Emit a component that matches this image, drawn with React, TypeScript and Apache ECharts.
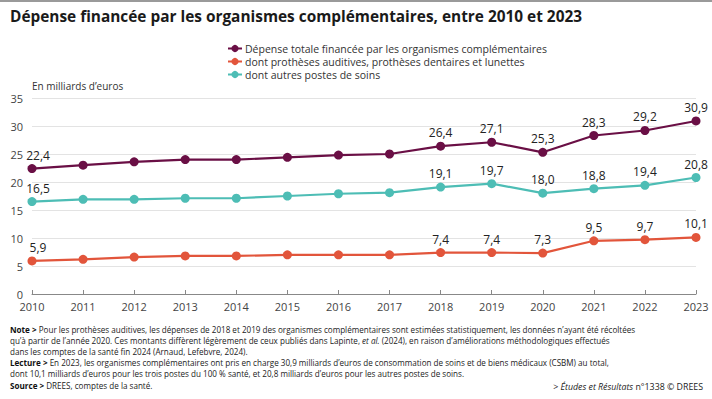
import React, { useEffect, useRef } from "react";
import * as echarts from "echarts";

const years = ["2010","2011","2012","2013","2014","2015","2016","2017","2018","2019","2020","2021","2022","2023"];
const total = [22.4, 23.0, 23.6, 24.0, 24.0, 24.4, 24.8, 25.0, 26.4, 27.1, 25.3, 28.3, 29.2, 30.9];
const hearing = [5.9, 6.2, 6.6, 6.8, 6.8, 7.0, 7.0, 7.0, 7.4, 7.4, 7.3, 9.5, 9.7, 10.1];
const other = [16.5, 16.9, 16.9, 17.1, 17.1, 17.5, 17.9, 18.1, 19.1, 19.7, 18.0, 18.8, 19.4, 20.8];
const labelledYears = ["2010","2018","2019","2020","2021","2022","2023"];
const seriesNames = [
  "Dépense totale financée par les organismes complémentaires",
  "dont prothèses auditives, prothèses dentaires et lunettes",
  "dont autres postes de soins",
];
const colors = ["#6a0f45", "#e2553b", "#4dbdb5"];

const FONT = "'Open Sans', 'Noto Sans', sans-serif";

const noteLines: { bold: string; text: string; italic?: string; after?: string }[] = [
  { bold: "Note > ", text: "Pour les prothèses auditives, les dépenses de 2018 et 2019 des organismes complémentaires sont estimées statistiquement, les données n’ayant été récoltées" },
  { bold: "", text: "qu’à partir de l’année 2020. Ces montants diffèrent légèrement de ceux publiés dans Lapinte, ", italic: "et al.", after: " (2024), en raison d’améliorations méthodologiques effectués" },
  { bold: "", text: "dans les comptes de la santé fin 2024 (Arnaud, Lefebvre, 2024)." },
  { bold: "Lecture > ", text: "En 2023, les organismes complémentaires ont pris en charge 30,9 milliards d’euros de consommation de soins et de biens médicaux (CSBM) au total," },
  { bold: "", text: "dont 10,1 milliards d’euros pour les trois postes du 100 % santé, et 20,8 milliards d’euros pour les autres postes de soins." },
  { bold: "Source > ", text: "DREES, comptes de la santé." },
];

export default function App() {
  const ref = useRef<HTMLDivElement>(null);
  useEffect(() => {
    if (!ref.current) return;
    const chart = echarts.init(ref.current, null, { renderer: "svg" });
    const mk = (i: number, data: number[]) => ({
      name: seriesNames[i],
      type: "line",
      data: data.map((v, k) => (k === 0 ? { value: v, label: { offset: [6, 0] } } : v)),
      symbol: "circle",
      symbolSize: 9,
      color: colors[i],
      lineStyle: { width: 2.2, color: colors[i] },
      itemStyle: { color: colors[i] },
      label: {
        show: true,
        position: "top",
        distance: 3,
        color: "#222",
        fontSize: 12,
        fontFamily: FONT,
        formatter: (p: any) =>
          labelledYears.includes(p.name) ? Number(p.value).toFixed(1).replace(".", ",") : "",
      },
      z: 3 - i,
    });
    const s = [mk(0, total), mk(1, hearing), mk(2, other)];

    const NF = 8.1;
    const graphics: any[] = [
      { type: "rect", left: 0, top: 0, shape: { width: 712, height: 2 }, style: { fill: "#9a9a9a" } },
      {
        type: "text", left: 10, top: 9,
        style: { text: "Dépense financée par les organismes complémentaires, entre 2010 et 2023", font: `bold 15.4px ${FONT}`, fill: "#1a1a1a" },
      },
      {
        type: "text", left: 32, top: 81,
        style: { text: "En milliards d’euros", font: `10px ${FONT}`, fill: "#333" },
      },
      {
        type: "text", right: 9, top: 382,
        style: {
          text: "{n|> }{i|Études et Résultats}{n| n°1338 © DREES}",
          rich: {
            n: { font: `8.8px ${FONT}`, fill: "#222" },
            i: { font: `italic 8.8px ${FONT}`, fill: "#222" },
          },
        },
      },
    ];
    noteLines.forEach((ln, i) => {
      const y = 325 + i * 11.2;
      graphics.push({
        type: "text", left: 10, top: y,
        style: {
          text: (ln.bold ? `{b|${ln.bold}}` : "") + `{n|${ln.text}}` + (ln.italic ? `{i|${ln.italic}}{n|${ln.after}}` : ""),
          rich: {
            b: { font: `bold ${NF}px ${FONT}`, fill: "#111" },
            n: { font: `${NF}px ${FONT}`, fill: "#222" },
            i: { font: `italic ${NF}px ${FONT}`, fill: "#222" },
          },
        },
      });
    });

    chart.setOption({
      animation: false,
      backgroundColor: "#fff",
      textStyle: { fontFamily: FONT },
      legend: {
        orient: "vertical",
        left: 222,
        top: 38,
        itemGap: 2,
        itemWidth: 14,
        itemHeight: 9,
        textStyle: { fontSize: 10.5, color: "#333", fontFamily: FONT, padding: [0, 0, 0, -2] },
        data: seriesNames,
      },
      grid: { left: 32, right: 16, top: 98, bottom: 105 },
      xAxis: {
        type: "category",
        data: years,
        boundaryGap: false,
        axisLine: { lineStyle: { color: "#888", width: 1 } },
        axisTick: { show: true, inside: true, length: 4, alignWithLabel: true, lineStyle: { color: "#888" } },
        axisLabel: { color: "#444", fontSize: 11, lineHeight: 11, fontFamily: FONT, margin: 7, interval: 0 },
      },
      yAxis: {
        type: "value",
        min: 0,
        max: 35,
        interval: 5,
        axisLine: { show: false },
        axisTick: { show: false },
        axisLabel: { color: "#444", fontSize: 11, lineHeight: 11, fontFamily: FONT, margin: 9 },
        splitLine: { lineStyle: { color: "#e3e3e3", width: 1 } },
      },
      series: s,
      graphic: graphics,
    });
    return () => chart.dispose();
  }, []);
  return <div ref={ref} style={{ width: 712, height: 399, position: "absolute", left: 0, top: 0 }} />;
}
